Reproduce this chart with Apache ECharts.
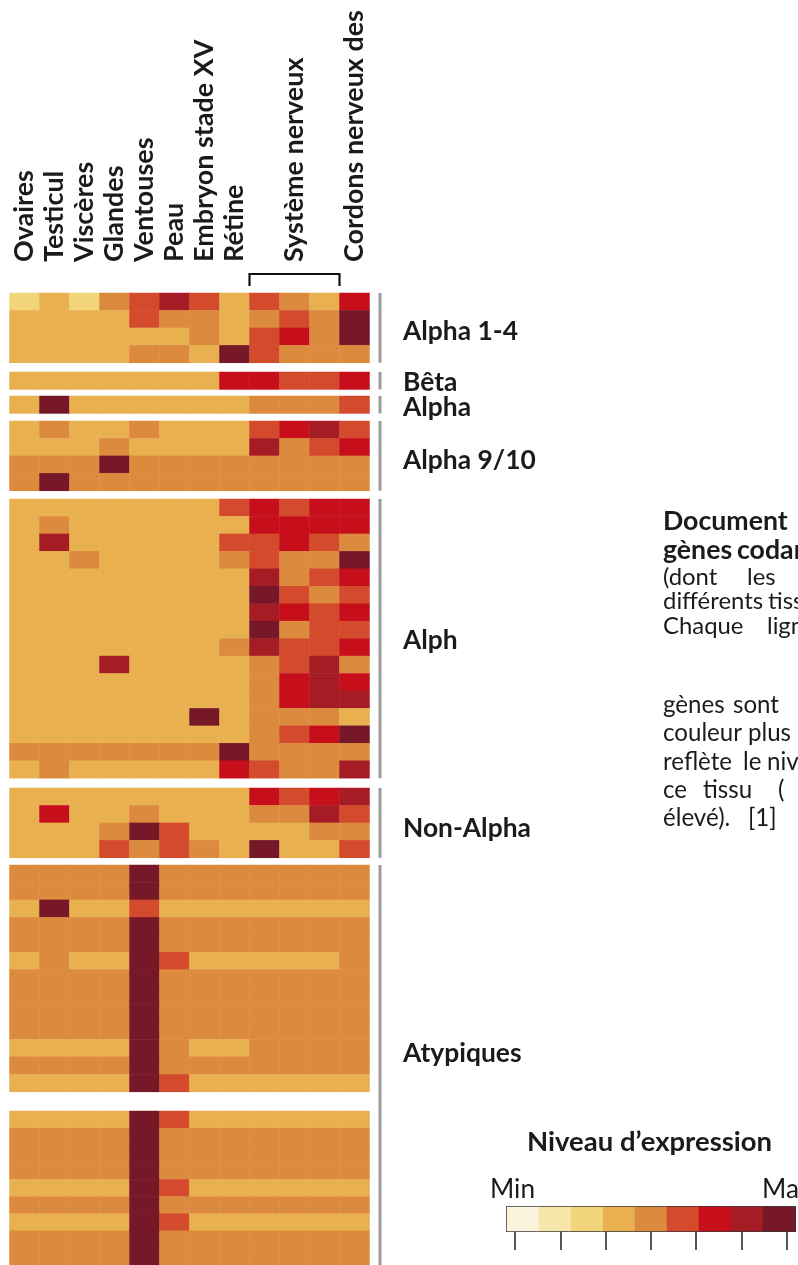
<!DOCTYPE html>
<html>
<head>
<meta charset="utf-8">
<script src="https://cdn.jsdelivr.net/npm/echarts@6/dist/echarts.min.js"></script>
<style>
  html, body { margin: 0; padding: 0; background: #fff; }
  #main { width: 798px; height: 1265px; }
</style>
</head>
<body>
<div id="main"></div>
<script>
// tissus (colonnes) ; les 3 colonnes du système nerveux partagent une étiquette
var tissues = ['Ovaires', 'Testicul', 'Viscères', 'Glandes', 'Ventouses', 'Peau', 'Embryon stade XV', 'Rétine',
  'Système nerveux (a)', 'Système nerveux', 'Système nerveux (c)', 'Cordons nerveux des'];
var tissueLabels = ['Ovaires', 'Testicul', 'Viscères', 'Glandes', 'Ventouses', 'Peau', 'Embryon stade XV', 'Rétine',
  '', 'Système nerveux', '', 'Cordons nerveux des'];

// niveau d'expression : 1 = min ... 9 = max
var levelColors = ['#fbf4dd', '#f6e6a9', '#f2d47b', '#e9b04f', '#dc8a3d', '#d34a2c', '#c70f1b', '#a51c24', '#761828'];
var levels = [1, 2, 3, 4, 5, 6, 7, 8, 9];

var alpha14 = [
  [3, 4, 3, 5, 6, 8, 6, 4, 6, 5, 4, 7],
  [4, 4, 4, 4, 6, 5, 5, 4, 5, 6, 5, 9],
  [4, 4, 4, 4, 4, 4, 5, 4, 6, 7, 5, 9],
  [4, 4, 4, 4, 5, 5, 4, 9, 6, 5, 5, 5]
];
var beta = [
  [4, 4, 4, 4, 4, 4, 4, 7, 7, 6, 6, 7]
];
var alpha = [
  [4, 9, 4, 4, 4, 4, 4, 4, 5, 5, 5, 6]
];
var alpha910 = [
  [4, 5, 4, 4, 5, 4, 4, 4, 6, 7, 8, 6],
  [4, 4, 4, 5, 4, 4, 4, 4, 8, 5, 6, 7],
  [5, 5, 5, 9, 5, 5, 5, 5, 5, 5, 5, 5],
  [5, 9, 5, 5, 5, 5, 5, 5, 5, 5, 5, 5]
];
var alph = [
  [4, 4, 4, 4, 4, 4, 4, 6, 7, 6, 7, 7],
  [4, 5, 4, 4, 4, 4, 4, 4, 7, 7, 7, 7],
  [4, 8, 4, 4, 4, 4, 4, 6, 6, 7, 6, 5],
  [4, 4, 5, 4, 4, 4, 4, 5, 6, 5, 5, 9],
  [4, 4, 4, 4, 4, 4, 4, 4, 8, 5, 6, 7],
  [4, 4, 4, 4, 4, 4, 4, 4, 9, 6, 5, 6],
  [4, 4, 4, 4, 4, 4, 4, 4, 8, 7, 6, 7],
  [4, 4, 4, 4, 4, 4, 4, 4, 9, 5, 6, 6],
  [4, 4, 4, 4, 4, 4, 4, 5, 8, 6, 6, 7],
  [4, 4, 4, 8, 4, 4, 4, 4, 5, 6, 8, 5],
  [4, 4, 4, 4, 4, 4, 4, 4, 5, 7, 8, 7],
  [4, 4, 4, 4, 4, 4, 4, 4, 5, 7, 8, 8],
  [4, 4, 4, 4, 4, 4, 9, 4, 5, 5, 5, 4],
  [4, 4, 4, 4, 4, 4, 4, 4, 5, 6, 7, 9],
  [5, 5, 5, 5, 5, 5, 5, 9, 5, 5, 5, 5],
  [4, 5, 4, 4, 4, 4, 4, 7, 6, 5, 5, 8]
];
var nonAlpha = [
  [4, 4, 4, 4, 4, 4, 4, 4, 7, 6, 7, 8],
  [4, 7, 4, 4, 5, 4, 4, 4, 5, 5, 8, 6],
  [4, 4, 4, 5, 9, 6, 4, 4, 4, 4, 5, 5],
  [4, 4, 4, 6, 5, 6, 5, 4, 9, 4, 4, 6]
];
var atypiques1 = [
  [5, 5, 5, 5, 9, 5, 5, 5, 5, 5, 5, 5],
  [5, 5, 5, 5, 9, 5, 5, 5, 5, 5, 5, 5],
  [4, 9, 4, 4, 6, 4, 4, 4, 4, 4, 4, 4],
  [5, 5, 5, 5, 9, 5, 5, 5, 5, 5, 5, 5],
  [5, 5, 5, 5, 9, 5, 5, 5, 5, 5, 5, 5],
  [4, 5, 4, 4, 9, 6, 4, 4, 4, 4, 4, 5],
  [5, 5, 5, 5, 9, 5, 5, 5, 5, 5, 5, 5],
  [5, 5, 5, 5, 9, 5, 5, 5, 5, 5, 5, 5],
  [5, 5, 5, 5, 9, 5, 5, 5, 5, 5, 5, 5],
  [5, 5, 5, 5, 9, 5, 5, 5, 5, 5, 5, 5],
  [4, 4, 4, 4, 9, 5, 4, 4, 5, 5, 5, 5],
  [5, 5, 5, 5, 9, 5, 5, 5, 5, 5, 5, 5],
  [4, 4, 4, 4, 9, 6, 4, 4, 4, 4, 4, 4]
];
var atypiques2 = [
  [4, 4, 4, 4, 9, 6, 4, 4, 4, 4, 4, 4],
  [5, 5, 5, 5, 9, 5, 5, 5, 5, 5, 5, 5],
  [5, 5, 5, 5, 9, 5, 5, 5, 5, 5, 5, 5],
  [5, 5, 5, 5, 9, 5, 5, 5, 5, 5, 5, 5],
  [4, 4, 4, 4, 9, 6, 4, 4, 4, 4, 4, 4],
  [5, 5, 5, 5, 9, 5, 5, 5, 5, 5, 5, 5],
  [4, 4, 4, 4, 9, 6, 4, 4, 4, 4, 4, 4],
  [5, 5, 5, 5, 9, 5, 5, 5, 5, 5, 5, 5],
  [5, 5, 5, 5, 9, 5, 5, 5, 5, 5, 5, 5]
];

// layout
var FONT = 'Lato';
var INK = '#1b1b1b';
var LEFT = 9.5, CELL_W = 30, ROW_H = 17.45;
var BAR_X = 380, LABEL_X = 403;

// font size so that a sample string has the width seen on the figure
var measureCtx = document.createElement('canvas').getContext('2d');
function fitSize(sample, weight, width) {
  measureCtx.font = weight + ' 100px ' + FONT;
  return 100 * width / measureCtx.measureText(sample).width;
}
var colSize = fitSize('Cordons nerveux des', 'bold', 252);
var labelSize = fitSize('Alpha 1-4', 'bold', 115);
var docBoldSize = fitSize('Document', 'bold', 125);
var docUpperSize = fitSize('différents', 'normal', 100);
var docSize = fitSize('couleur', 'normal', 79);
var legendTitleSize = fitSize('Niveau d’expression', 'bold', 245);
var minMaxSize = fitSize('Min', 'normal', 45);

var groups = [
  { rows: alpha14,    top: 293,  label: 'Alpha 1-4',  labelY: 331 },
  { rows: beta,       top: 372,  label: 'Bêta',       labelY: 382 },
  { rows: alpha,      top: 396,  label: 'Alpha',      labelY: 407 },
  { rows: alpha910,   top: 421,  label: 'Alpha 9/10', labelY: 460 },
  { rows: alph,       top: 499,  label: 'Alph',       labelY: 640 },
  { rows: nonAlpha,   top: 788,  label: 'Non-Alpha',  labelY: 828 },
  { rows: atypiques1, top: 865,  label: 'Atypiques',  labelY: 1053 },
  { rows: atypiques2, top: 1111, label: null }
];

var grid = [], xAxis = [], yAxis = [], series = [], graphic = [];

function addText(x, y, text, weight, size) {
  graphic.push({
    type: 'text', x: x, y: y, z: 10,
    style: {
      text: text, fill: INK, align: 'left', verticalAlign: 'middle',
      font: weight + ' ' + size.toFixed(1) + 'px ' + FONT
    }
  });
}

groups.forEach(function (g, gi) {
  var h = g.rows.length * ROW_H;
  grid.push({ left: LEFT, top: g.top, width: tissues.length * CELL_W, height: h });
  xAxis.push({
    type: 'category', gridIndex: gi, data: tissues, position: 'top',
    show: gi === 0,
    axisLine: { show: false }, axisTick: { show: false }, splitLine: { show: false },
    axisLabel: {
      show: gi === 0, interval: 0, rotate: -90, margin: 31,
      fontFamily: FONT, fontWeight: 'bold', fontSize: colSize, color: INK,
      formatter: function (v, i) { return tissueLabels[i]; }
    }
  });
  yAxis.push({
    type: 'category', gridIndex: gi, inverse: true, show: false,
    data: g.rows.map(function (r, i) { return String(i); })
  });
  var data = [];
  g.rows.forEach(function (r, ri) {
    r.forEach(function (v, ci) { data.push([ci, ri, v]); });
  });
  series.push({
    type: 'heatmap', xAxisIndex: gi, yAxisIndex: gi, data: data,
    itemStyle: { borderWidth: 0 }, emphasis: { disabled: true }
  });
  if (g.label) addText(LABEL_X, g.labelY, g.label, 'bold', labelSize);
});

// barres grises à droite des groupes
function groupBar(y0, y1) {
  graphic.push({
    type: 'line', z: 5,
    shape: { x1: BAR_X, y1: y0, x2: BAR_X, y2: y1 },
    style: { stroke: '#9b9b9b', lineWidth: 3 }
  });
}
groups.slice(0, 6).forEach(function (g) { groupBar(g.top, g.top + g.rows.length * ROW_H); });
groupBar(groups[6].top, 1265);

// crochet "Système nerveux"
var bx0 = LEFT + 8 * CELL_W, bx1 = LEFT + 11 * CELL_W;
graphic.push({
  type: 'polyline', z: 5,
  shape: { points: [[bx0, 286], [bx0, 274], [bx1, 274], [bx1, 286]] },
  style: { stroke: '#111', lineWidth: 2.2, fill: null }
});

// légende : barre de couleurs
var LG = grid.length;
grid.push({ left: 507, top: 1207, width: 288, height: 24, show: true, borderColor: '#3a3a3a', borderWidth: 2 });
xAxis.push({ type: 'category', gridIndex: LG, data: levels.map(String), show: false });
xAxis.push({
  type: 'value', gridIndex: LG, min: -0.177, max: 6.18, position: 'bottom',
  axisLine: { show: false }, splitLine: { show: false }, axisLabel: { show: false },
  axisTick: { show: true, inside: false, length: 19, lineStyle: { color: '#222', width: 1.5 }, customValues: [0, 1, 2, 3, 4, 5, 6] }
});
yAxis.push({ type: 'category', gridIndex: LG, data: [''], show: false });
series.push({
  type: 'heatmap', xAxisIndex: LG, yAxisIndex: LG,
  data: levels.map(function (v, i) { return [i, 0, v]; }),
  emphasis: { disabled: true }
});

addText(527, 1142, 'Niveau d’expression', 'bold', legendTitleSize);
addText(490, 1190, 'Min', 'normal', minMaxSize);
addText(762, 1190, 'Max', 'normal', minMaxSize);

// texte du document (coupé par le bord droit)
var docLines = [
  { y: 521, style: 'bold',  words: [[663, 'Document'], [800, '1']] },
  { y: 550, style: 'bold',  words: [[663, 'gènes'], [737, 'codant']] },
  { y: 577, style: 'upper', words: [[663, '(dont'], [747, 'les']] },
  { y: 601, style: 'upper', words: [[663, 'différents'], [768, 'tissus']] },
  { y: 626, style: 'upper', words: [[663, 'Chaque'], [767, 'ligne']] },
  { y: 705, style: 'lower', words: [[663, 'gènes'], [733, 'sont']] },
  { y: 733, style: 'lower', words: [[663, 'couleur'], [748, 'plus']] },
  { y: 762, style: 'lower', words: [[663, 'reflète'], [743, 'le'], [767, 'niveau']] },
  { y: 790, style: 'lower', words: [[663, 'ce'], [703, 'tissu'], [778, '(']] },
  { y: 818, style: 'lower', words: [[663, 'élevé).'], [748, '[1]']] }
];
docLines.forEach(function (ln) {
  var w8 = ln.style === 'bold' ? 'bold' : 'normal';
  var sz = ln.style === 'bold' ? docBoldSize : (ln.style === 'upper' ? docUpperSize : docSize);
  ln.words.forEach(function (w) { addText(w[0], ln.y, w[1], w8, sz); });
});

var chart = echarts.init(document.getElementById('main'));
chart.setOption({
  backgroundColor: '#fff',
  animation: false,
  grid: grid,
  xAxis: xAxis,
  yAxis: yAxis,
  visualMap: {
    type: 'piecewise', show: false, dimension: 2,
    pieces: levels.map(function (v, i) { return { value: v, color: levelColors[i] }; })
  },
  series: series,
  graphic: graphic
});
</script>
</body>
</html>
